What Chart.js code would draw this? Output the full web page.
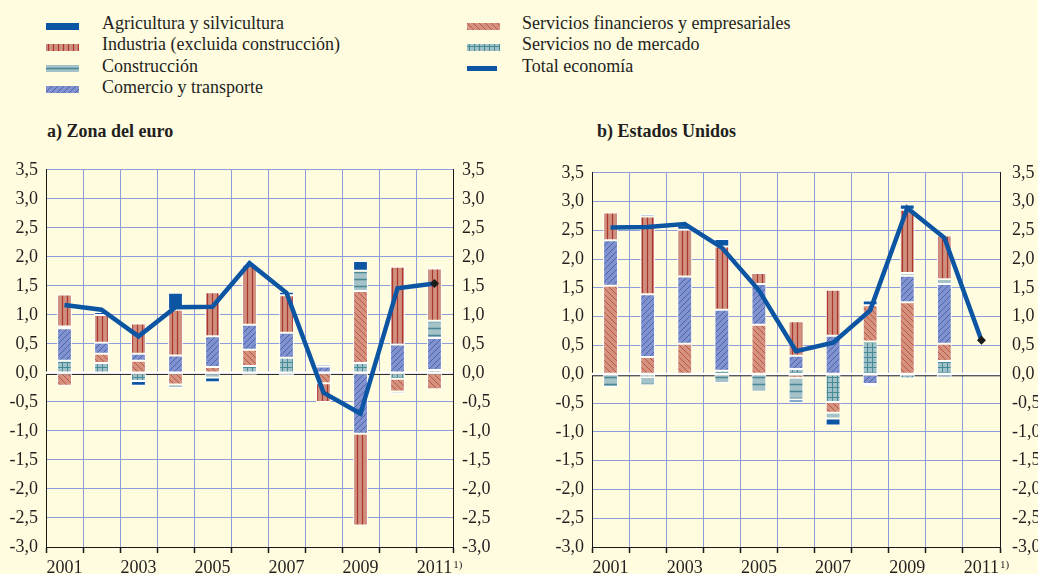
<!DOCTYPE html>
<html lang="es">
<head>
<meta charset="utf-8">
<title>Contribuciones sectoriales al crecimiento</title>
<script src="https://cdn.jsdelivr.net/npm/chart.js@4.4.1/dist/chart.umd.min.js"></script>
<style>
  html, body { margin: 0; padding: 0; }
  body {
    width: 1038px; height: 574px; position: relative; overflow: hidden;
    background: #FFFCE0; color: #231f20;
    font-family: 'Liberation Serif', 'Times New Roman', serif;
  }
  .legend-text { position: absolute; font-size: 18px; line-height: 18px; white-space: nowrap; }
  .swatch { position: absolute; }
  .panel-title { position: absolute; top: 122px; font-size: 18px; line-height: 18px; font-weight: bold; }
  .panel { position: absolute; top: 150px; }
</style>
</head>
<body>

<div id="legend"></div>
<div class="panel-title" style="left:47px">a) Zona del euro</div>
<div class="panel-title" style="left:597px">b) Estados Unidos</div>
<canvas id="euroChart" class="panel" style="left:0" width="520" height="424"></canvas>
<canvas id="usChart" class="panel" style="left:520px" width="518" height="424"></canvas>

<script>
// ── Data ────────────────────────────────────────────────────────
const years = ['2001', '2002', '2003', '2004', '2005', '2006', '2007', '2008', '2009', '2010', '2011'];

// Zona del euro (puntos porcentuales)
const euroAgri  = [null, 0.05, -0.08, 0.29, -0.08, 0.03, 0.06, 0.04, 0.17, 0.01, 0.02];
const euroInd   = [0.55, 0.48, 0.52, 0.79, 0.76, 1.04, 0.65, -0.32, -1.58, 1.34, 0.90];
const euroCons  = [0.03, null, null, -0.06, -0.08, -0.03, -0.05, null, 0.35, -0.04, 0.30];
const euroCom   = [0.56, 0.19, 0.12, 0.30, 0.53, 0.43, 0.43, 0.11, -1.05, 0.49, 0.55];
const euroFin   = [-0.22, 0.16, 0.21, -0.20, 0.10, 0.28, null, -0.18, 1.24, -0.22, -0.28];
const euroNoMer = [0.21, 0.17, -0.14, null, null, 0.12, 0.26, null, 0.17, -0.10, 0.05];
const euroTotal = [1.17, 1.09, 0.63, 1.13, 1.14, 1.89, 1.38, -0.34, -0.70, 1.46, 1.54];

// Estados Unidos
const usAgri  = [null, 0.04, 0.08, 0.13, null, -0.05, -0.12, 0.08, 0.09, -0.05, null];
const usInd   = [0.48, 1.35, 0.81, 1.10, 0.19, 0.60, 0.80, null, 1.10, 0.76, null];
const usCons  = [-0.22, -0.14, null, -0.15, -0.30, -0.38, -0.10, -0.03, 0.05, 0.08, null];
const usCom   = [0.79, 1.09, 1.17, 1.06, 0.71, 0.23, 0.67, -0.17, 0.46, 1.04, null];
const usFin   = [1.54, 0.30, 0.53, null, 0.86, -0.06, -0.19, 0.63, 1.25, 0.30, null];
const usNoMer = [null, -0.05, null, 0.06, null, 0.09, -0.48, 0.57, -0.07, 0.23, null];
const usTotal = [2.55, 2.56, 2.61, 2.20, 1.46, 0.40, 0.55, 1.11, 2.89, 2.37, 0.59];

const yTicks = { min: -3, max: 3.5, step: 0.5 };

// ── Styles ──────────────────────────────────────────────────────
const TEXT = '#231f20';
const GRID = '#8E9EDA';
const TOTAL_BLUE = '#0B55A3';
const FONT = { family: "'Liberation Serif', 'Times New Roman', serif", size: 18 };

// small tiles repeated as canvas patterns
function makeFill(kind) {
  if (kind === 'agri') return '#0B55A3';
  const c = document.createElement('canvas');
  const g = c.getContext('2d');
  let s = 6;
  if (kind === 'ind' || kind === 'nomer') s = 5;
  if (kind === 'cons') s = 7;
  c.width = s; c.height = s;

  const bg = { ind: '#D0907F', fin: '#D4927F', com: '#8292CF', cons: '#A6C2C9', nomer: '#9FC1C7' }[kind];
  const fg = { ind: '#AC352D', fin: '#B4463A', com: '#3A5AA8', cons: '#4B8894', nomer: '#468A95' }[kind];
  g.fillStyle = bg;
  g.fillRect(0, 0, s, s);
  g.strokeStyle = fg;
  g.beginPath();
  if (kind === 'ind') {
    g.lineWidth = 1.2;
    g.moveTo(2.5, 0); g.lineTo(2.5, s);
  } else if (kind === 'fin') {
    g.lineWidth = 0.8;
    for (let x = -s; x <= s; x += s) { g.moveTo(x, 0); g.lineTo(x + s, s); }
  } else if (kind === 'com') {
    g.lineWidth = 0.8;
    for (let x = -s; x <= s; x += s) { g.moveTo(x, s); g.lineTo(x + s, 0); }
  } else if (kind === 'cons') {
    g.lineWidth = 1.6;
    g.moveTo(0, 3.5); g.lineTo(s, 3.5);
  } else if (kind === 'nomer') {
    g.lineWidth = 1;
    g.moveTo(2.5, 0); g.lineTo(2.5, s);
    g.moveTo(0, 2.5); g.lineTo(s, 2.5);
  }
  g.stroke();
  return g.createPattern(c, 'repeat');
}

const sectorKeys = ['agri', 'ind', 'cons', 'com', 'fin', 'nomer'];
const sectorNames = {
  agri: 'Agricultura y silvicultura',
  ind: 'Industria (excluida construcción)',
  cons: 'Construcción',
  com: 'Comercio y transporte',
  fin: 'Servicios financieros y empresariales',
  nomer: 'Servicios no de mercado'
};
const fills = {};
sectorKeys.forEach(k => fills[k] = makeFill(k));

// ── Legend ──────────────────────────────────────────────────────
function buildLegend() {
  const box = document.getElementById('legend');
  const entries = [
    ['agri', 0, 0], ['ind', 0, 1], ['cons', 0, 2], ['com', 0, 3],
    ['fin', 1, 0], ['nomer', 1, 1], ['total', 1, 2]
  ];
  entries.forEach(([key, col, row]) => {
    const x = col === 0 ? 46 : 467;
    const textTop = 14 + row * 21.3;
    const sw = document.createElement('canvas');
    sw.className = 'swatch';
    const isLine = key === 'total';
    sw.width = isLine ? 30 : 33;
    sw.height = isLine ? 5 : 7;
    sw.style.left = x + 'px';
    sw.style.top = Math.round(textTop + (isLine ? 9 : 8.5)) + 'px';
    const g = sw.getContext('2d');
    g.fillStyle = isLine ? TOTAL_BLUE : fills[key];
    g.fillRect(0, 0, sw.width, sw.height);
    box.appendChild(sw);

    const t = document.createElement('div');
    t.className = 'legend-text';
    t.style.left = (col === 0 ? 102 : 522) + 'px';
    t.style.top = textTop + 'px';
    t.textContent = isLine ? 'Total economía' : sectorNames[key];
    box.appendChild(t);
  });
}
buildLegend();

// ── Chart plugins ───────────────────────────────────────────────
const zeroLine = {
  id: 'zeroLine',
  beforeDatasetsDraw(chart) {
    const { ctx, chartArea, scales } = chart;
    const y = scales.y.getPixelForValue(0);
    ctx.save();
    ctx.strokeStyle = '#ffffff';
    ctx.lineWidth = 3;
    ctx.beginPath(); ctx.moveTo(chartArea.left, y); ctx.lineTo(chartArea.right, y); ctx.stroke();
    ctx.strokeStyle = '#1a1a1a';
    ctx.lineWidth = 1;
    ctx.beginPath(); ctx.moveTo(chartArea.left, y + 1.5); ctx.lineTo(chartArea.right, y + 1.5); ctx.stroke();
    ctx.restore();
  }
};

// footnote mark after the last year
const footnoteMark = {
  id: 'footnoteMark',
  afterDraw(chart) {
    const { ctx, scales } = chart;
    const last = years.length - 1;
    const px = scales.x.getPixelForTick(last);
    ctx.save();
    ctx.font = `18px ${FONT.family}`;
    const w = ctx.measureText(years[last]).width;
    ctx.font = `11px ${FONT.family}`;
    ctx.fillStyle = TEXT;
    ctx.textBaseline = 'top';
    ctx.fillText('1)', px + w / 2 + 1, scales.x.top + 13);
    ctx.restore();
  }
};

const fmt = v => v.toFixed(1).replace('.', ',');

// ── Panels ──────────────────────────────────────────────────────
function buildPanel(canvasId, sectors, total, leftW, rightW, rightPad) {
  // stacked from the zero line outwards in this order
  const stackOrder = ['nomer', 'fin', 'com', 'cons', 'ind', 'agri'];
  const datasets = stackOrder.map(k => ({
    type: 'bar',
    label: sectorNames[k],
    data: sectors[k],
    backgroundColor: fills[k],
    borderColor: '#ffffff',
    borderWidth: 1,
    borderSkipped: false,
    stack: 'sectores',
    order: 2,
    categoryPercentage: 1,
    barPercentage: 0.4
  }));
  datasets.push({
    type: 'line',
    label: 'Total economía',
    data: total,
    borderColor: TOTAL_BLUE,
    borderWidth: 4.5,
    borderJoinStyle: 'miter',
    tension: 0,
    pointRadius: ctx => ctx.dataIndex === total.length - 1 ? 4.5 : 0,
    pointStyle: 'rectRot',
    pointBackgroundColor: '#1c1c1c',
    pointBorderColor: '#1c1c1c',
    pointBorderWidth: 0,
    stack: 'total',
    order: 1
  });

  const tickOpts = pad => ({
    stepSize: yTicks.step, padding: pad, color: TEXT, font: FONT, callback: fmt
  });

  return new Chart(document.getElementById(canvasId), {
    data: { labels: years, datasets },
    plugins: [zeroLine, footnoteMark],
    options: {
      responsive: false,
      animation: false,
      layout: { padding: { top: 19, left: 0, right: 0, bottom: 0 } },
      plugins: { legend: { display: false }, tooltip: { enabled: false } },
      scales: {
        x: {
          stacked: true,
          grid: { offset: true, color: GRID, tickColor: '#1a1a1a', tickLength: 6, tickWidth: 1.5 },
          border: { color: '#1a1a1a', width: 1 },
          ticks: {
            autoSkip: false, maxRotation: 0, padding: 4, color: TEXT, font: FONT,
            callback: (v, i) => i % 2 === 0 ? years[i] : ''
          },
          afterFit: s => { s.height = 27; }
        },
        y: {
          stacked: true,
          min: yTicks.min, max: yTicks.max,
          ticks: tickOpts(8),
          grid: { color: GRID, drawTicks: false },
          border: { color: '#1a1a1a', width: 1 },
          afterFit: s => { s.width = leftW; }
        },
        y2: {
          type: 'linear',
          position: 'right',
          min: yTicks.min, max: yTicks.max,
          ticks: tickOpts(rightPad),
          grid: { drawOnChartArea: false, drawTicks: false },
          border: { color: '#1a1a1a', width: 1 },
          afterFit: s => { s.width = rightW; }
        }
      }
    }
  });
}

buildPanel('euroChart',
  { agri: euroAgri, ind: euroInd, cons: euroCons, com: euroCom, fin: euroFin, nomer: euroNoMer },
  euroTotal, 46, 67, 9);

buildPanel('usChart',
  { agri: usAgri, ind: usInd, cons: usCons, com: usCom, fin: usFin, nomer: usNoMer },
  usTotal, 72, 38, 12);
</script>
</body>
</html>
